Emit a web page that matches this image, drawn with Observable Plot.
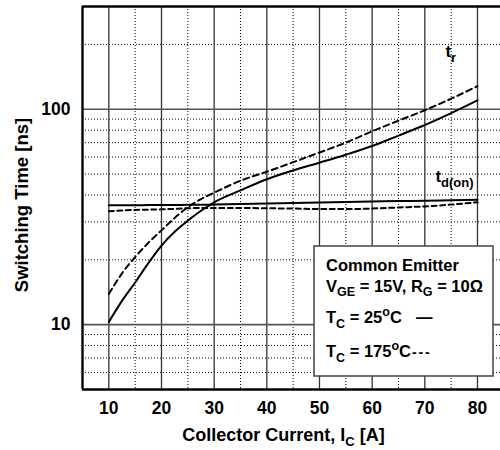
<!DOCTYPE html>
<html><head><meta charset="utf-8">
<script src="https://cdn.jsdelivr.net/npm/d3@7"></script>
<script src="https://cdn.jsdelivr.net/npm/@observablehq/plot@0.6"></script>
<style>
body{margin:0;background:#fff;overflow:hidden}
#chart svg{display:block}
</style></head><body><div id="chart"></div>
<script>
// Collector current [A]
const current = [10,12.5,15,17.5,20,22.5,25,27.5,30,35,40,45,50,55,60,65,70,75,80];
// Switching times [ns]
const tr25   = [10.3,12.9,15.7,19.3,23.3,27,30.4,33.8,37,42,47.3,52,56.5,61.5,67.5,75.5,84.5,96,110];
const tr175  = [13.9,17.3,20.6,24,27.4,31.3,35.1,38.3,41,46.6,51.3,56.8,63,70,79,88.5,99,112,128];
const td25   = [35.8,35.8,35.8,35.9,35.9,35.9,36,36,36.1,36.3,36.5,36.7,36.9,37.1,37.3,37.5,37.6,37.8,38];
const td175  = [33.6,33.9,34.1,34.2,34.3,34.5,34.7,34.8,34.8,34.8,34.7,34.6,34.4,34.4,34.6,35,35.4,36.1,37];

const xMajor = [10,20,30,40,50,60,70,80];
const xMinor = [15,25,35,45,55,65,75];
const yMajor = [10,100];
const yMinor = [6,7,8,9,20,30,40,50,60,70,80,90,200];
const xTickLabels = ["10","20","30","40","50","60","70","80"];
const yTickLabels = ["10","100"];

const xTitle = [["Collector Current, I",""],["C","sub"],[" [A]",""]];
const yTitle = "Switching Time [ns]";
const legendLines = [
  [["Common Emitter",""]],
  [["V",""],["GE","sub"],[" = 15V, R",""],["G","sub"],[" = 10\u03A9",""]],
  [["T",""],["C","sub"],[" = 25",""],["o","sup"],["C",""]],
  [["T",""],["C","sub"],[" = 175",""],["o","sup"],["C",""]]
];
const legendKeys = ["\u2014","- - -"];
const curveLabels = [
  {x:74.0, y:174, parts:[["t",""],["r","sub"]]},
  {x:72.1, y:45.6, parts:[["t",""],["d(on)","sub"]]}
];

const series = [
  {name:"tr25", v:tr25, dash:null},
  {name:"tr175", v:tr175, dash:"6,4"},
  {name:"td25", v:td25, dash:null},
  {name:"td175", v:td175, dash:"5,3.5"}
];
const rows = series.flatMap(s => current.map((c,i)=>({I:c, t:s.v[i], s:s.name})));

const FONT = "'Liberation Sans', Arial, Helvetica, sans-serif";

const lineMarks = series.map(s => Plot.line(rows.filter(r=>r.s===s.name), {
  x:"I", y:"t", stroke:"#000", strokeWidth:2, curve:"monotone-x",
  strokeDasharray: s.dash || undefined
}));

const chart = Plot.plot({
  width:500, height:450,
  marginLeft:82, marginRight:0, marginTop:6, marginBottom:61,
  style:{fontFamily:FONT, fontWeight:"bold", fontSize:"17.5px", color:"#000", background:"#fff"},
  x:{domain:[5,84.37], ticks:xMajor, tickSize:0, tickPadding:12, label:null,
     tickFormat:(d)=>xTickLabels[xMajor.indexOf(d)]},
  y:{type:"log", domain:[5,300], ticks:yMajor, tickSize:0, tickPadding:12, label:null,
     tickFormat:(d)=>yTickLabels[yMajor.indexOf(d)]},
  marks:[
    Plot.ruleX(xMinor, {stroke:"#000", strokeWidth:1, strokeDasharray:"1,2"}),
    Plot.ruleY(yMinor, {stroke:"#000", strokeWidth:1, strokeDasharray:"1,2"}),
    Plot.ruleX(xMajor, {stroke:"#333", strokeWidth:1.3}),
    Plot.ruleY(yMajor, {stroke:"#555", strokeWidth:1.6}),
    Plot.ruleX([5], {stroke:"#000", strokeWidth:2.4}),
    Plot.ruleY([5], {stroke:"#000", strokeWidth:2.4}),
    Plot.ruleY([300], {stroke:"#000", strokeWidth:2.4}),
    ...lineMarks
  ]
});
document.getElementById("chart").appendChild(chart);

const xs = chart.scale("x"), ys = chart.scale("y");
const svg = d3.select(chart);

function rich(textSel, parts, size, subSize){
  let shift = 0;
  parts.forEach(([str,kind])=>{
    const target = kind==="sub" ? 0.3*size : kind==="sup" ? -0.42*size : 0;
    const ts = textSel.append("tspan").text(str).attr("dy", target - shift);
    if (kind) ts.attr("font-size", subSize);
    shift = target;
  });
}

const ann = svg.append("g").attr("font-family", FONT).attr("font-weight","bold").attr("fill","#000")
  .attr("text-anchor","start").style("white-space","pre");

// axis titles
const xt = ann.append("text").attr("x",283.5).attr("y",441).attr("text-anchor","middle").attr("font-size",18);
rich(xt, xTitle, 18, 13);
ann.append("text").attr("transform","translate(28,205) rotate(-90)").attr("text-anchor","middle")
  .attr("font-size",18.5).text(yTitle);

// curve labels
curveLabels.forEach(l=>{
  const t = ann.append("text").attr("x", xs.apply(l.x)).attr("y", ys.apply(l.y))
    .attr("text-anchor","start").attr("font-size",17);
  rich(t, l.parts, 17, 13);
});

// legend box
const lg = ann.append("g").attr("text-anchor","start");
lg.append("rect").attr("x",314).attr("y",246).attr("width",179).attr("height",130)
  .attr("fill","#fff").attr("stroke","#444").attr("stroke-width",1.5);
const lineY = [270.5, 291.5, 323.3, 356.7];
legendLines.forEach((parts,i)=>{
  const t = lg.append("text").attr("x",326).attr("y",lineY[i]).attr("font-size",16.5);
  rich(t, parts, 16.5, 12.5);
});
lg.append("text").attr("x",416).attr("y",323).attr("font-size",16.5).text(legendKeys[0]);
lg.append("text").attr("x",412).attr("y",357).attr("font-size",14).attr("letter-spacing",-1).text(legendKeys[1]);
</script></body></html>
